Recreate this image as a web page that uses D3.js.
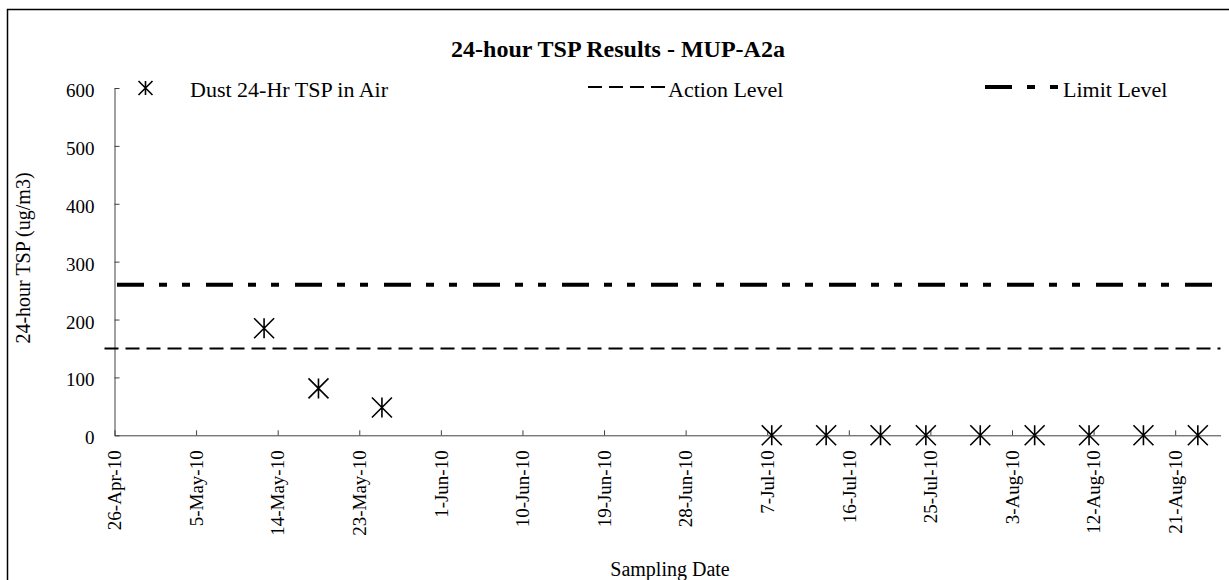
<!DOCTYPE html>
<html>
<head>
<meta charset="utf-8">
<script src="https://cdn.jsdelivr.net/npm/d3@7"></script>
<style>
  html, body { margin: 0; padding: 0; background: #fff; }
  svg { display: block; }
  text { font-family: "Liberation Serif", "Times New Roman", serif; fill: #000; }
</style>
</head>
<body>
<svg id="chart" width="1229" height="580"></svg>
<script>
// ---- data ----
const sampleDates = ["12-May-10", "18-May-10", "25-May-10", "7-Jul-10", "13-Jul-10", "19-Jul-10",
                     "24-Jul-10", "30-Jul-10", "5-Aug-10", "11-Aug-10", "17-Aug-10", "23-Aug-10"];
const tspValues = [185, 81, 48, 0, 0, 0, 0, 0, 0, 0, 0, 0];
const actionLevel = 150;
const limitLevel = 260;
const xTickLabels = ["26-Apr-10", "5-May-10", "14-May-10", "23-May-10", "1-Jun-10", "10-Jun-10",
                     "19-Jun-10", "28-Jun-10", "7-Jul-10", "16-Jul-10", "25-Jul-10", "3-Aug-10",
                     "12-Aug-10", "21-Aug-10"];
const xDomain = ["26-Apr-10", "26-Aug-10"];
const yTicks = [0, 100, 200, 300, 400, 500, 600];
const yDomain = [0, 600];
const titleText = "24-hour TSP Results - MUP-A2a";
const xTitle = "Sampling Date";
const yTitle = "24-hour TSP (ug/m3)";
const legendLabels = ["Dust 24-Hr TSP in Air", "Action Level", "Limit Level"];

// ---- setup ----
const parse = d3.utcParse("%d-%b-%y");
const svg = d3.select("#chart");
const plotLeft = 114.5, plotRight = 1220.5, plotTop = 88, plotBottom = 435.3;

const x = d3.scaleUtc().domain(xDomain.map(parse)).range([plotLeft, plotRight]);
const y = d3.scaleLinear().domain(yDomain).range([plotBottom, plotTop]);
const halfDay = 12 * 3600 * 1000;

// outer border
svg.append("rect").attr("x", 7.5).attr("y", 9.5).attr("width", 1240).attr("height", 600)
  .attr("fill", "none").attr("stroke", "#000").attr("stroke-width", 1.5);

// title
svg.append("text").attr("x", 618).attr("y", 57).attr("text-anchor", "middle")
  .attr("font-size", 24).attr("font-weight", "bold").text(titleText);

// axes
const axisColor = "#404040";
const xAxis = d3.axisBottom(x).tickValues(xTickLabels.map(parse)).tickSizeInner(-5).tickSizeOuter(0)
  .tickFormat((d, i) => xTickLabels[i]);
const gx = svg.append("g").attr("transform", `translate(0,${plotBottom})`).call(xAxis);
gx.select(".domain").attr("stroke", axisColor);
gx.selectAll(".tick line").attr("stroke", axisColor);
gx.selectAll(".tick text")
  .attr("font-family", "Liberation Serif").attr("font-size", 19)
  .attr("transform", "rotate(-90)")
  .attr("text-anchor", "end").attr("x", -15).attr("y", 0).attr("dy", "0.33em");

const yAxis = d3.axisLeft(y).tickValues(yTicks).tickSizeInner(-5).tickSizeOuter(0).tickPadding(20);
const gy = svg.append("g").attr("transform", `translate(${plotLeft},0)`).call(yAxis);
gy.select(".domain").attr("stroke", axisColor);
gy.selectAll(".tick line").attr("stroke", axisColor);
gy.selectAll(".tick text").attr("font-family", "Liberation Serif").attr("font-size", 19).attr("dy", "0.45em");

// axis titles
svg.append("text").attr("x", 670).attr("y", 576).attr("text-anchor", "middle")
  .attr("font-size", 20).text(xTitle);
svg.append("text").attr("transform", "translate(30,258) rotate(-90)").attr("text-anchor", "middle")
  .attr("font-size", 20).text(yTitle);

// reference lines
const limitDash = "27,15,8,15,8,16";
const actionDash = "14,7";
svg.append("line").attr("x1", plotLeft - 10).attr("x2", plotRight)
  .attr("y1", y(actionLevel)).attr("y2", y(actionLevel))
  .attr("stroke", "#000").attr("stroke-width", 2).attr("stroke-dasharray", actionDash);
svg.append("line").attr("x1", plotLeft + 2.5).attr("x2", plotRight)
  .attr("y1", y(limitLevel)).attr("y2", y(limitLevel))
  .attr("stroke", "#000").attr("stroke-width", 4).attr("stroke-dasharray", limitDash);

// star marker
function star(h) {
  return `M${-h},${-h}L${h},${h}M${-h},${h}L${h},${-h}M0,${-h}L0,${h}`;
}
const data = sampleDates.map((d, i) => ({ date: parse(d), value: tspValues[i] }));
svg.append("g").selectAll("path").data(data).join("path")
  .attr("transform", d => `translate(${x(new Date(d.date.getTime() + halfDay))},${y(d.value)})`)
  .attr("d", star(10)).attr("fill", "none").attr("stroke", "#000").attr("stroke-width", 1.6);

// legend
const ly = 87;
svg.append("path").attr("transform", `translate(145.5,${ly + 1})`).attr("d", star(7))
  .attr("fill", "none").attr("stroke", "#000").attr("stroke-width", 1.6);
svg.append("text").attr("x", 190).attr("y", 97).attr("font-size", 22).text(legendLabels[0]);

svg.append("line").attr("x1", 588).attr("x2", 665).attr("y1", ly).attr("y2", ly)
  .attr("stroke", "#000").attr("stroke-width", 2).attr("stroke-dasharray", actionDash);
svg.append("text").attr("x", 668).attr("y", 97).attr("font-size", 22).text(legendLabels[1]);

svg.append("line").attr("x1", 985).attr("x2", 1058).attr("y1", ly).attr("y2", ly)
  .attr("stroke", "#000").attr("stroke-width", 4).attr("stroke-dasharray", limitDash);
svg.append("text").attr("x", 1063).attr("y", 97).attr("font-size", 22).text(legendLabels[2]);
</script>
</body>
</html>
